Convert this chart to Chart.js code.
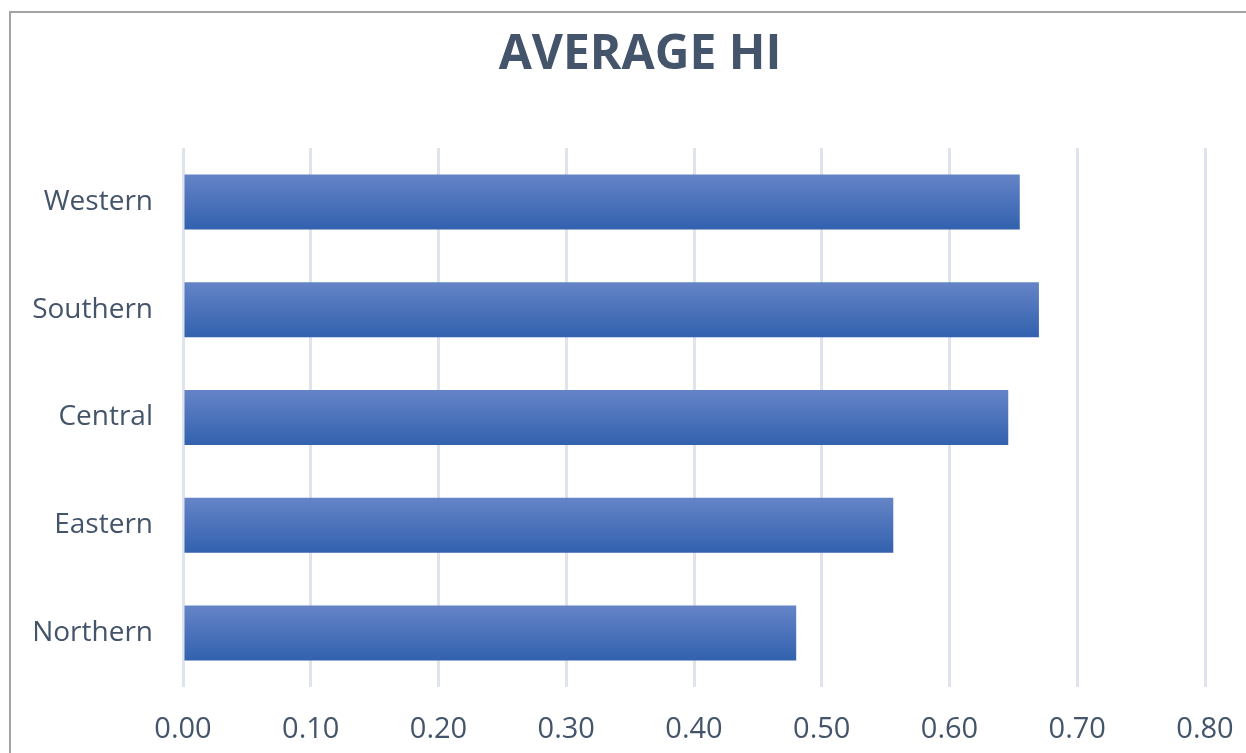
<!DOCTYPE html>
<html>
<head>
<meta charset="utf-8">
<script src="https://cdn.jsdelivr.net/npm/chart.js@4/dist/chart.umd.min.js"></script>
<style>
  html, body { margin: 0; padding: 0; background: #fff; }
  #wrap { position: relative; width: 1246px; height: 753px; overflow: hidden; }
  #frame {
    position: absolute; left: 9px; top: 11px; width: 1300px; height: 800px;
    border-left: 2px solid #a3a3a3; border-top: 2px solid #a3a3a3;
  }
  canvas { position: absolute; left: 0; top: 0; }
</style>
</head>
<body>
<div id="wrap">
  <div id="frame"></div>
  <canvas id="barchart" width="1246" height="753"></canvas>
</div>
<script>
const regions = ['Western', 'Southern', 'Central', 'Eastern', 'Northern'];
const averageHi = [0.655, 0.670, 0.646, 0.556, 0.480];
const xTicks = [0, 0.1, 0.2, 0.3, 0.4, 0.5, 0.6, 0.7, 0.8];
const chartTitle = 'AVERAGE HI';

const textColor = '#44546A';
const fontFamily = '"Open Sans", "Noto Sans", sans-serif';

function barGradient(context) {
  const chart = context.chart;
  const yScale = chart.scales.y;
  if (!yScale || context.dataIndex === undefined) return '#4a72bb';
  const centre = yScale.getPixelForValue(context.dataIndex);
  const step = yScale.height / regions.length;
  const half = step * 0.51 / 2;
  // scales are not laid out yet on the first pass
  if (!isFinite(centre) || !isFinite(half) || half <= 0) return '#4a72bb';
  const g = chart.ctx.createLinearGradient(0, centre - half, 0, centre + half);
  g.addColorStop(0, '#6584c7');
  g.addColorStop(1, '#3261ae');
  return g;
}

// title drawn by hand so it can sit where the original has it
const titlePlugin = {
  id: 'fixedTitle',
  afterDraw(chart) {
    const ctx = chart.ctx;
    ctx.save();
    ctx.fillStyle = textColor;
    ctx.font = 'bold 48px ' + fontFamily;
    ctx.textAlign = 'center';
    ctx.textBaseline = 'middle';
    ctx.fillText(chartTitle, 640, 55);
    ctx.restore();
  }
};

const canvas = document.getElementById('barchart');

new Chart(canvas, {
  type: 'bar',
  data: {
    labels: regions,
    datasets: [{
      data: averageHi,
      backgroundColor: barGradient,
      borderWidth: 0,
      barPercentage: 0.51,
      categoryPercentage: 1.0,
    }],
  },
  options: {
    indexAxis: 'y',
    responsive: false,
    animation: false,
    devicePixelRatio: 1,
    layout: { padding: { top: 148, left: 0, right: 41, bottom: 0 } },
    plugins: {
      legend: { display: false },
      title: { display: false },
      tooltip: { enabled: false },
    },
    scales: {
      x: {
        min: 0,
        max: 0.8,
        afterBuildTicks: (scale) => {
          scale.ticks = xTicks.map(v => ({ value: v }));
        },
        afterFit: (scale) => {
          scale.height = 66;
          // don't let the end labels push the plot area in
          scale.paddingLeft = 0;
          scale.paddingRight = 0;
        },
        grid: {
          color: '#dfe4ec',
          lineWidth: 3,
          drawTicks: false,
        },
        border: { display: false },
        ticks: {
          padding: 25,
          color: textColor,
          font: { family: fontFamily, size: 29 },
          callback: (v) => Number(v).toFixed(2),
          maxRotation: 0,
        },
      },
      y: {
        afterFit: (scale) => { scale.width = 183; },
        grid: { display: false, drawTicks: false },
        border: { display: false },
        ticks: {
          padding: 30,
          color: textColor,
          font: { family: fontFamily, size: 28 },
        },
      },
    },
  },
  plugins: [titlePlugin],
});
</script>
</body>
</html>
